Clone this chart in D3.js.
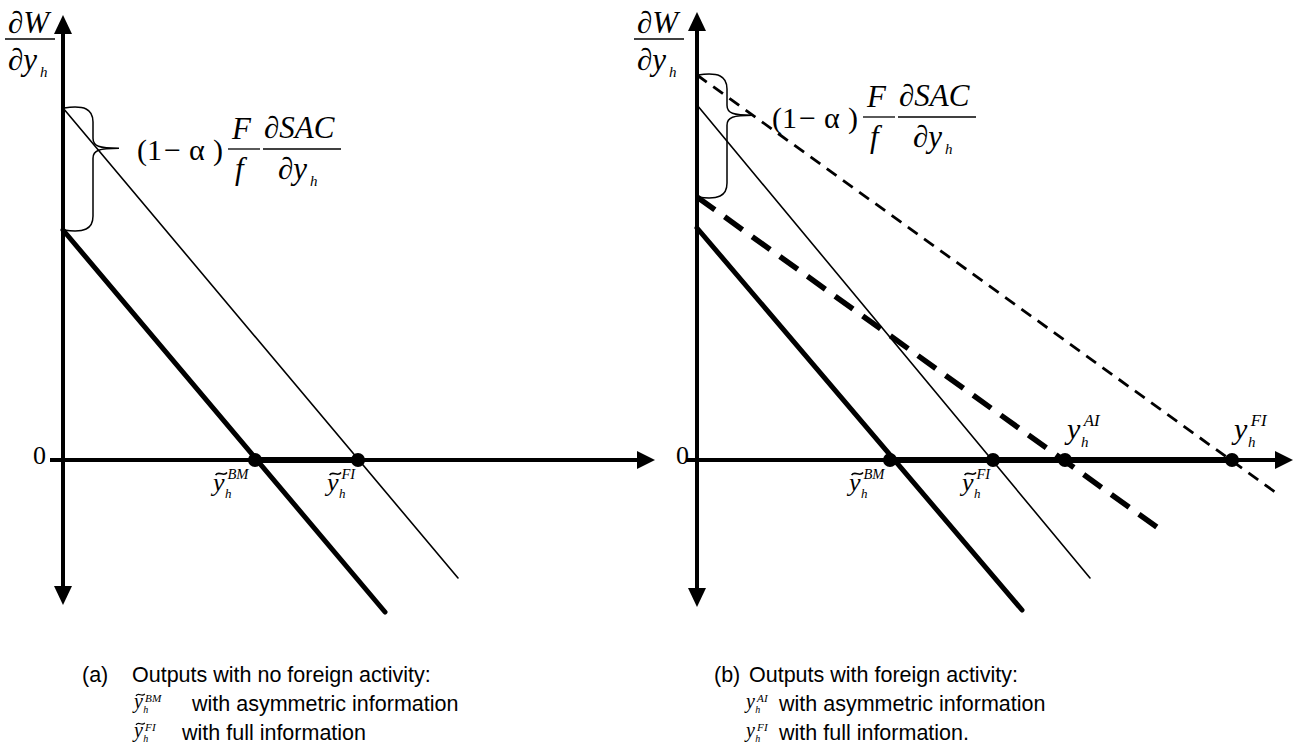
<!DOCTYPE html>
<html>
<head>
<meta charset="utf-8">
<script src="https://cdn.jsdelivr.net/npm/d3@7"></script>
<style>
  body { margin: 0; background: #fff; }
  text { fill: #000; }
</style>
</head>
<body>
<svg id="vis" width="1312" height="744"></svg>
<script>
// chart units: y-axis at x = 0, horizontal axis at y = 0
// panel (a): no foreign activity
const curvesA = ["FI", "BM"];
const startA = [[0, 3.52], [0, 2.30]];
const endA = [[3.95, -1.18], [3.22, -1.52]];
const dotsA = [1.92, 2.95];
const dotLabelsA = ["BM", "FI"];
const braceA = [2.30, 3.52];

// panel (b): with foreign activity
const curvesB = ["FI", "BM", "FIf", "AI"];
const startB = [[0, 3.55], [0, 2.32], [0, 3.85], [0, 2.63]];
const endB = [[3.93, -1.18], [3.25, -1.50], [5.78, -0.32], [4.68, -0.73]];
const dotsB = [1.93, 2.96, 3.68, 5.35];
const dotLabelsB = ["BM", "FI", "AI", "FI"];
const braceB = [2.63, 3.85];

const captionA = ["(a)", "Outputs with no foreign activity:", "with asymmetric information", "with full information"];
const captionB = ["(b)", "Outputs with foreign activity:", "with asymmetric information", "with full information."];

const serif = "'Liberation Serif', 'Times New Roman', serif";
const sans = "'Liberation Sans', Arial, sans-serif";

const styles = {
  FI: { w: 1.6, dash: null },
  BM: { w: 5, dash: null },
  FIf: { w: 2.8, dash: "12,8" },
  AI: { w: 5.5, dash: "22,12" }
};

const svg = d3.select("#vis");
svg.append("rect").attr("width", 1312).attr("height", 744).attr("fill", "#fff");

const y = d3.scaleLinear().domain([0, 1]).range([460, 360]);

// y_h^sup, optionally with a tilde drawn as a path
function mathY(g, x0, base, S, sup, tilde, supUp) {
  const t = g.append("text").attr("x", x0).attr("y", base)
    .attr("font-family", serif).attr("font-style", "italic").attr("font-size", S);
  t.append("tspan").text("y");
  t.append("tspan").attr("font-size", S * 0.5).attr("dx", S * 0.02).attr("dy", S * 0.25).text("h");
  t.append("tspan").attr("font-size", S * 0.56).attr("dx", -S * 0.16).attr("dy", -S * supUp).text(sup);
  if (tilde) {
    const x1 = x0 + S * 0.1, w = S * 0.44, ym = base - S * 0.66, a = S * 0.05;
    g.append("path")
      .attr("d", `M${x1},${ym + a} C${x1 + w * 0.3},${ym - 3 * a} ${x1 + w * 0.7},${ym + 3 * a} ${x1 + w},${ym - a}`)
      .attr("fill", "none").attr("stroke", "#000").attr("stroke-width", S * 0.06);
  }
}

function formula(g, x0, yb) {
  const t = (x, yy, s, txt, it) => g.append("text").attr("x", x).attr("y", yy)
    .attr("font-family", serif).attr("font-size", s)
    .attr("font-style", it ? "italic" : "normal").text(txt);
  const p = g.append("text").attr("y", yb + 11).attr("font-family", serif).attr("font-size", 30);
  [["(", 0], ["1", 10], ["\u2212", 27], ["\u03b1", 52], [")", 76]].forEach(d => {
    p.append("tspan").attr("x", x0 + d[1]).text(d[0]);
  });
  t(x0 + 95, yb - 10, 31, "F", true);
  t(x0 + 98, yb + 30, 31, "f", true);
  g.append("line").attr("x1", x0 + 91).attr("x2", x0 + 123).attr("y1", yb).attr("y2", yb)
    .attr("stroke", "#000").attr("stroke-width", 1.3);
  t(x0 + 127, yb - 11, 31, "\u2202SAC", true);
  g.append("line").attr("x1", x0 + 126).attr("x2", x0 + 204).attr("y1", yb).attr("y2", yb)
    .attr("stroke", "#000").attr("stroke-width", 1.3);
  const b = t(x0 + 141, yb + 30, 31, "\u2202y", true);
  b.append("tspan").attr("font-size", 15).attr("dx", 3).attr("dy", 7).text("h");
}

function dwLabel(g, x0) {
  const t = (x, yy, s, txt) => g.append("text").attr("x", x).attr("y", yy)
    .attr("font-family", serif).attr("font-size", s).attr("font-style", "italic").text(txt);
  t(x0 + 3, 33, 31, "\u2202W");
  g.append("line").attr("x1", x0).attr("x2", x0 + 50).attr("y1", 39).attr("y2", 39)
    .attr("stroke", "#000").attr("stroke-width", 1.3);
  const b = t(x0 + 3, 70, 31, "\u2202y");
  b.append("tspan").attr("font-size", 15).attr("dx", 3).attr("dy", 7).text("h");
}

function bracePath(x0, y1, y2, w, tip) {
  const ym = y1 + (y2 - y1) * 0.33;
  const xs = x0 + w;
  return `M${x0},${y1} C${x0 + w * 0.7},${y1 - 3} ${xs},${y1 + 1} ${xs},${y1 + 14}` +
    ` L${xs},${ym - 10} C${xs},${ym - 2} ${xs + 6},${ym} ${xs + tip},${ym}` +
    ` C${xs + 6},${ym} ${xs},${ym + 2} ${xs},${ym + 10}` +
    ` L${xs},${y2 - 14} C${xs},${y2 - 1} ${x0 + w * 0.7},${y2 + 3} ${x0},${y2}`;
}

const panels = [
  { ox: 63, yTop: 15, yBot: 605, xLeft: 50, xRight: 655, curves: curvesA, start: startA, end: endA,
    dots: dotsA, dotLabels: dotLabelsA, brace: braceA, seg: [dotsA[0], dotsA[1]],
    labelX: 5, formula: [137, 149], zeroX: 33, caption: captionA, capX: 82, capX2: 132, capY: 682,
    capMathX: 134, capTextX: [192, 182], tildeCap: true, lblOff: [-42, -31] },
  { ox: 697, yTop: 12, yBot: 607, xLeft: 686, xRight: 1293, curves: curvesB, start: startB, end: endB,
    dots: dotsB, dotLabels: dotLabelsB, brace: braceB, seg: [dotsB[0], dotsB[3]],
    labelX: 634, formula: [772, 117], zeroX: 676, caption: captionB, capX: 714, capX2: 749, capY: 682,
    capMathX: 746, capTextX: [779, 779], tildeCap: false, lblOff: [-41, -31, 2, 2] }
];

panels.forEach(p => {
  const g = svg.append("g");
  const x = d3.scaleLinear().domain([0, 1]).range([p.ox, p.ox + 100]);
  const line = d3.line().x(d => x(d[0])).y(d => y(d[1]));

  // axes
  g.append("line").attr("x1", p.ox).attr("x2", p.ox).attr("y1", p.yTop + 12).attr("y2", p.yBot - 12)
    .attr("stroke", "#000").attr("stroke-width", 4);
  g.append("line").attr("x1", p.xLeft).attr("x2", p.xRight - 12).attr("y1", y(0)).attr("y2", y(0))
    .attr("stroke", "#000").attr("stroke-width", 4);
  const tri = [
    [[p.ox, p.yTop], [p.ox - 9, p.yTop + 19], [p.ox + 9, p.yTop + 19]],
    [[p.ox, p.yBot], [p.ox - 9, p.yBot - 19], [p.ox + 9, p.yBot - 19]],
    [[p.xRight, y(0)], [p.xRight - 18, y(0) - 9], [p.xRight - 18, y(0) + 9]]
  ];
  g.selectAll("path.arrow").data(tri).enter().append("path").attr("class", "arrow")
    .attr("d", d => "M" + d.join("L") + "Z").attr("fill", "#000");

  // curves
  p.curves.forEach((c, i) => {
    g.append("path").attr("d", line([p.start[i], p.end[i]]))
      .attr("fill", "none").attr("stroke", "#000")
      .attr("stroke-width", styles[c].w)
      .attr("stroke-dasharray", styles[c].dash)
      .attr("stroke-linecap", styles[c].dash ? "butt" : "round");
  });

  // thick segment on axis
  g.append("path").attr("d", line([[p.seg[0], 0], [p.seg[1], 0]]))
    .attr("stroke", "#000").attr("stroke-width", 6).attr("fill", "none");

  g.selectAll("circle").data(p.dots).enter().append("circle")
    .attr("cx", d => x(d)).attr("cy", y(0)).attr("r", 7).attr("fill", "#000");

  // dot labels
  p.dots.forEach((d, i) => {
    const lx = x(d) + p.lblOff[i];
    if (p.lblOff[i] < 0) mathY(g, lx, 491, 26, p.dotLabels[i], true, 0.7);
    else mathY(g, lx, 439, 30, p.dotLabels[i], false, 0.7);
  });

  // brace
  g.append("path").attr("d", bracePath(p.ox + 1, y(p.brace[1]), y(p.brace[0]), 29, 26))
    .attr("fill", "none").attr("stroke", "#000").attr("stroke-width", 1.5);

  formula(g, p.formula[0], p.formula[1]);
  dwLabel(g, p.labelX);
  g.append("text").attr("x", p.zeroX).attr("y", 464).attr("font-family", serif)
    .attr("font-size", 26).text("0");

  // caption
  const cap = (xx, yy, txt) => g.append("text").attr("x", xx).attr("y", yy)
    .attr("font-family", sans).attr("font-size", 21.5).text(txt);
  cap(p.capX, p.capY, p.caption[0]);
  cap(p.capX2, p.capY, p.caption[1]);
  const sups = p.tildeCap ? ["BM", "FI"] : ["AI", "FI"];
  [0, 1].forEach(k => {
    const by = p.capY + 29 * (k + 1);
    mathY(g, p.capMathX, by - 3, 20, sups[k], p.tildeCap, 0.55);
    cap(p.capTextX[k], by, p.caption[k + 2]);
  });
});
</script>
</body>
</html>
